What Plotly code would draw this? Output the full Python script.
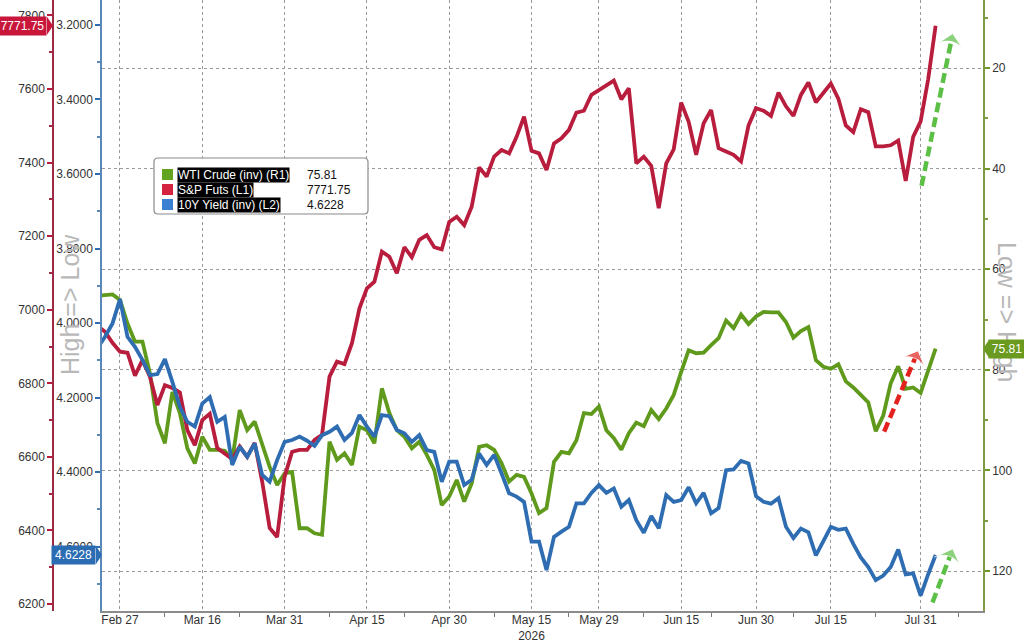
import pandas as pd
import plotly.graph_objects as go

# trading days on the chart: weekends and three US holidays are skipped
HOLIDAYS = ["2026-05-25", "2026-06-19", "2026-07-03"]
dates = [d.strftime("%Y-%m-%d") for d in pd.bdate_range("2026-02-24", "2026-08-04")
         if d.strftime("%Y-%m-%d") not in HOLIDAYS]

# S&P futures (L1)
spx = [6956, 6940, 6910, 6886,
       6883, 6821, 6863, 6818, 6741, 6795, 6787, 6775, 6673, 6632, 6700, 6717, 6624, 6608, 6594, 6628, 6600, 6638, 6533, 6407, 6382, 6546,
       6614, 6619, 6619, 6646, 6660, 6818, 6859, 6852, 6909, 7004, 7058, 7076, 7158, 7144, 7099, 7170, 7143, 7190, 7203, 7170, 7164, 7239,
       7253, 7230, 7280, 7387, 7362, 7416, 7434, 7425, 7470, 7525, 7432, 7425, 7380, 7452, 7466, 7489, 7536, 7541, 7584, 7597,
       7611, 7623, 7572, 7602, 7398, 7416, 7391, 7276, 7398, 7436, 7563, 7511, 7421, 7507, 7543, 7439, 7430, 7421, 7403, 7501, 7548,
       7541, 7527, 7590, 7553, 7527, 7584, 7618, 7564, 7590, 7615, 7574, 7501, 7483, 7545, 7537, 7444, 7444, 7447, 7460, 7350, 7470, 7512,
       7626, 7771.75]

# WTI crude (R1, inverted)
wti = [65.3, 65.2, 65.0, 66.1,
       70.8, 74.4, 74.4, 80.7, 90.6, 94.6, 84.4, 88.6, 95.6, 98.6, 93.3, 95.9, 95.9, 96.1, 97.9, 88.0, 92.0, 90.3, 94.6, 99.3, 102.9, 100.6,
       100.3, 111.5, 111.5, 112.5, 112.8, 94.3, 97.9, 96.6, 98.9, 91.3, 92.0, 94.6, 83.7, 88.6, 92.0, 93.3, 95.6, 94.3, 96.9, 99.9, 106.9, 105.2,
       101.9, 106.2, 102.6, 95.3, 95.0, 95.9, 98.6, 102.2, 100.9, 101.3, 104.6, 108.5, 107.5, 98.3, 96.3, 96.6, 94.0, 88.6, 88.8, 87.3,
       92.0, 93.6, 95.9, 92.6, 90.5, 91.2, 88.0, 89.8, 87.7, 85.0, 80.4, 76.1, 76.7, 76.6, 75.1, 73.7, 70.2, 71.7, 69.0, 70.9, 69.4,
       68.5, 68.6, 68.6, 70.5, 73.6, 72.3, 71.5, 78.1, 79.4, 79.8, 78.9, 82.3, 83.5, 85.0, 86.5, 92.2, 89.1, 82.7, 79.3, 83.8, 83.5, 84.6,
       80.4, 75.81]

# 10Y yield (L2, inverted)
yld = [4.067, 4.037, 4.001, 3.936,
       4.037, 4.064, 4.099, 4.140, 4.137, 4.097, 4.158, 4.225, 4.265, 4.278, 4.216, 4.199, 4.265, 4.252, 4.381, 4.332, 4.359, 4.323, 4.408, 4.426, 4.368, 4.319,
       4.314, 4.305, 4.316, 4.330, 4.301, 4.292, 4.278, 4.314, 4.295, 4.247, 4.278, 4.305, 4.247, 4.250, 4.287, 4.296, 4.319, 4.301, 4.341, 4.346, 4.426, 4.372,
       4.372, 4.435, 4.421, 4.350, 4.381, 4.354, 4.404, 4.457, 4.466, 4.480, 4.587, 4.587, 4.663, 4.574, 4.560, 4.547, 4.484, 4.484, 4.456, 4.435,
       4.456, 4.444, 4.493, 4.475, 4.529, 4.563, 4.518, 4.551, 4.462, 4.480, 4.475, 4.441, 4.484, 4.456, 4.511, 4.497, 4.395, 4.393, 4.370, 4.377, 4.465,
       4.480, 4.485, 4.470, 4.547, 4.577, 4.552, 4.562, 4.624, 4.588, 4.547, 4.555, 4.552, 4.593, 4.629, 4.655, 4.690, 4.678, 4.655, 4.608, 4.675, 4.672, 4.732,
       4.675, 4.6228]

assert len(dates) == len(spx) == len(wti) == len(yld)

tick_dates = ["2026-02-27", "2026-03-16", "2026-03-31", "2026-04-15", "2026-04-30", "2026-05-15",
              "2026-05-29", "2026-06-15", "2026-06-30", "2026-07-15", "2026-07-31"]
tick_labels = ["Feb 27", "Mar 16", "Mar 31", "Apr 15", "Apr 30", "May 15<br>2026",
               "May 29", "Jun 15", "Jun 30", "Jul 15", "Jul 31"]
minor_dates = ["2026-03-09", "2026-03-23", "2026-04-08", "2026-04-22", "2026-05-08", "2026-05-22",
               "2026-06-08", "2026-06-22", "2026-07-08", "2026-07-23", "2026-08-07"]

spx_ticks = [6200, 6400, 6600, 6800, 7000, 7200, 7400, 7600, 7800]
spx_minor = [6300, 6500, 6700, 6900, 7100, 7300, 7500, 7700]
yld_ticks = [3.2, 3.4, 3.6, 3.8, 4.0, 4.2, 4.4, 4.6]
yld_minor = [3.3, 3.5, 3.7, 3.9, 4.1, 4.3, 4.5, 4.7]
wti_ticks = [20, 40, 60, 80, 100, 120]
wti_minor = [10, 30, 50, 70, 90, 110]

# hand-drawn arrows (start, end) in the units of the axis they sit on
arrow_spx = (["2026-07-31 03:00", "2026-08-06 07:00"], [7337, 7751])
arrow_wti = (["2026-07-24 03:00", "2026-07-30 16:00"], [92.3, 76.2])
arrow_yld = (["2026-08-03 14:00", "2026-08-06 07:00"], [4.750, 4.606])

RED = "#b81d3d"
GREEN = "#5f9a1c"
BLUE = "#2f6db2"
FONT = "Arial, Liberation Sans, sans-serif"

W, H, PLOT_H = 1024, 642, 611


def px(x):
    return x / W


def py(y):
    return 1 - y / PLOT_H


def arrow_trace(xy, axis, color):
    return go.Scatter(x=xy[0], y=xy[1], yaxis=axis, mode="lines+markers",
                      line=dict(color=color, width=4.5, dash="10px,5px"),
                      marker=dict(symbol=["circle", "arrow-wide"], size=[9, 20],
                                  color=color, angleref="previous"))


fig = go.Figure()
fig.add_trace(go.Scatter(x=dates, y=wti, yaxis="y", mode="lines",
                         line=dict(color=GREEN, width=3.8)))
fig.add_trace(arrow_trace(arrow_wti, "y", "#e3221f"))
fig.add_trace(go.Scatter(x=dates, y=spx, yaxis="y2", mode="lines",
                         line=dict(color=RED, width=3.8)))
fig.add_trace(arrow_trace(arrow_spx, "y2", "#5cbf46"))
fig.add_trace(go.Scatter(x=dates, y=yld, yaxis="y3", mode="lines",
                         line=dict(color=BLUE, width=3.8)))
fig.add_trace(arrow_trace(arrow_yld, "y3", "#5cbf46"))

tickfont = dict(family=FONT, size=12, color="#333333")

fig.update_layout(
    width=W, height=H,
    margin=dict(l=0, r=0, t=0, b=H - PLOT_H),
    paper_bgcolor="white", plot_bgcolor="white",
    showlegend=False,
    font=dict(family=FONT, size=12, color="#333333"),
    xaxis=dict(
        domain=[px(102), px(983)],
        type="date",
        range=["2026-02-24 14:17", "2026-08-12 08:00"],
        rangebreaks=[dict(bounds=["sat", "mon"]), dict(values=HOLIDAYS)],
        tickmode="array", tickvals=tick_dates, ticktext=tick_labels,
        ticks="", ticklabelstandoff=-3,
        tickfont=tickfont,
        showgrid=True, gridcolor="#9a9a9a", griddash="dot", gridwidth=1,
        showline=True, linecolor="#8c8c8c", linewidth=1.5,
        minor=dict(tickmode="array", tickvals=minor_dates, ticks="outside",
                   ticklen=4, tickcolor="#777777", showgrid=False),
        zeroline=False, automargin=False,
    ),
    yaxis=dict(
        side="right", anchor="x",
        range=[127.95, 6.48],
        tickmode="array", tickvals=wti_ticks,
        ticks="outside", ticklen=5, tickwidth=2, tickcolor="#6f9a2a",
        tickfont=tickfont,
        showgrid=True, gridcolor="#9a9a9a", griddash="dot", gridwidth=1,
        showline=True, linecolor="#7f9c45", linewidth=1.5,
        minor=dict(tickmode="array", tickvals=wti_minor, ticks="outside",
                   ticklen=3, tickcolor="#7f9c45", showgrid=False),
        zeroline=False, automargin=False,
    ),
    yaxis2=dict(
        overlaying="y", side="left", anchor="free", position=px(53),
        range=[6181, 7842],
        tickmode="array", tickvals=spx_ticks,
        ticks="outside", ticklen=5, tickwidth=2, tickcolor="#b81d3d",
        tickfont=tickfont,
        showgrid=False,
        showline=True, linecolor="#9e2a44", linewidth=1.5,
        minor=dict(tickmode="array", tickvals=spx_minor, ticks="outside",
                   ticklen=3, tickcolor="#9e2a44", showgrid=False),
        zeroline=False, automargin=False,
    ),
    yaxis3=dict(
        overlaying="y", side="left", anchor="x",
        range=[4.773, 3.133],
        tickmode="array", tickvals=yld_ticks, ticktext=[f"{v:.4f}" for v in yld_ticks],
        ticks="outside", ticklen=5, tickwidth=2, tickcolor="#2f6db2",
        tickfont=tickfont,
        showgrid=False,
        showline=True, linecolor="#5a88b8", linewidth=1.5,
        minor=dict(tickmode="array", tickvals=yld_minor, ticks="outside",
                   ticklen=3, tickcolor="#5a88b8", showgrid=False),
        zeroline=False, automargin=False,
    ),
)

shapes = []
annotations = []

# side captions (drawn first so the value tags sit on top of them)
annotations.append(dict(xref="paper", yref="paper", x=px(70), y=py(305),
                        xanchor="center", yanchor="middle",
                        text="High =&gt; Low", textangle=-90, showarrow=False,
                        font=dict(family=FONT, size=25, color="#b8b8b8")))
annotations.append(dict(xref="paper", yref="paper", x=px(1007), y=py(312),
                        xanchor="center", yanchor="middle",
                        text="Low =&gt; High", textangle=90, showarrow=False,
                        font=dict(family=FONT, size=25, color="#b8b8b8")))

# last-value tags on the axes: a coloured label box plus a small pointer
tags = [
    dict(yref="y2", value=spx[-1], text=f"{spx[-1]:.2f}", color="#c8173a",
         tip=53, box_x=47, anchor="right", width=45, pointer="M-6,-9 L0,0 L-6,9 Z"),
    dict(yref="y3", value=yld[-1], text=f"{yld[-1]:.4f}", color="#2b6cb3",
         tip=102, box_x=96, anchor="right", width=41, pointer="M-6,-9 L0,0 L-6,9 Z"),
    dict(yref="y", value=wti[-1], text=f"{wti[-1]:.2f}", color="#6a9a1e",
         tip=983, box_x=988, anchor="left", width=34, pointer="M6,-9 L0,0 L6,9 Z"),
]
for t in tags:
    shapes.append(dict(type="path", xref="paper", yref=t["yref"],
                       xsizemode="pixel", ysizemode="pixel",
                       xanchor=px(t["tip"]), yanchor=t["value"], path=t["pointer"],
                       fillcolor=t["color"], line=dict(width=0), layer="above"))
    annotations.append(dict(xref="paper", yref=t["yref"], x=px(t["box_x"]), y=t["value"],
                            xanchor=t["anchor"], yanchor="middle",
                            width=t["width"], height=16, borderpad=1, align="center",
                            bgcolor=t["color"], text=t["text"], showarrow=False,
                            font=dict(family=FONT, size=12, color="white")))


# legend box
def rounded_rect(x0, y0, x1, y1, r):
    a, b, c, d = px(x0), px(x1), py(y0), py(y1)
    rx, ry = r / W, r / PLOT_H
    return (f"M{a + rx},{c} L{b - rx},{c} Q{b},{c} {b},{c - ry} "
            f"L{b},{d + ry} Q{b},{d} {b - rx},{d} "
            f"L{a + rx},{d} Q{a},{d} {a},{d + ry} "
            f"L{a},{c - ry} Q{a},{c} {a + rx},{c} Z")


shapes.append(dict(type="path", xref="paper", yref="paper",
                   path=rounded_rect(154, 158, 368, 214, 4),
                   fillcolor="white", line=dict(color="#8a8a8a", width=1.2), layer="above"))

legend_rows = [
    ("WTI Crude (inv) (R1)", f"{wti[-1]:.2f}", "#62a41f", 174.5),
    ("S&amp;P Futs (L1)", f"{spx[-1]:.2f}", "#d5223f", 189.5),
    ("10Y Yield (inv) (L2)", f"{yld[-1]:.4f}", "#3a80d2", 204.5),
]
for label, val, col, yc in legend_rows:
    shapes.append(dict(type="rect", xref="paper", yref="paper",
                       x0=px(162), x1=px(173), y0=py(yc - 5.5), y1=py(yc + 5.5),
                       fillcolor=col, line=dict(width=0), layer="above"))
    annotations.append(dict(xref="paper", yref="paper", x=px(177), y=py(yc),
                            xanchor="left", yanchor="middle", text=label, showarrow=False,
                            bgcolor="black", borderpad=0,
                            font=dict(family=FONT, size=12, color="white")))
    annotations.append(dict(xref="paper", yref="paper", x=px(305), y=py(yc),
                            xanchor="left", yanchor="middle", text=val, showarrow=False,
                            font=dict(family=FONT, size=12, color="#111111")))

fig.update_layout(shapes=shapes, annotations=annotations)

# the page body has a default 8px margin; drop it so the figure sits at the window corner
fig.write_html("out.html", config={"displayModeBar": False},
               post_script="document.body.style.margin='0';")
